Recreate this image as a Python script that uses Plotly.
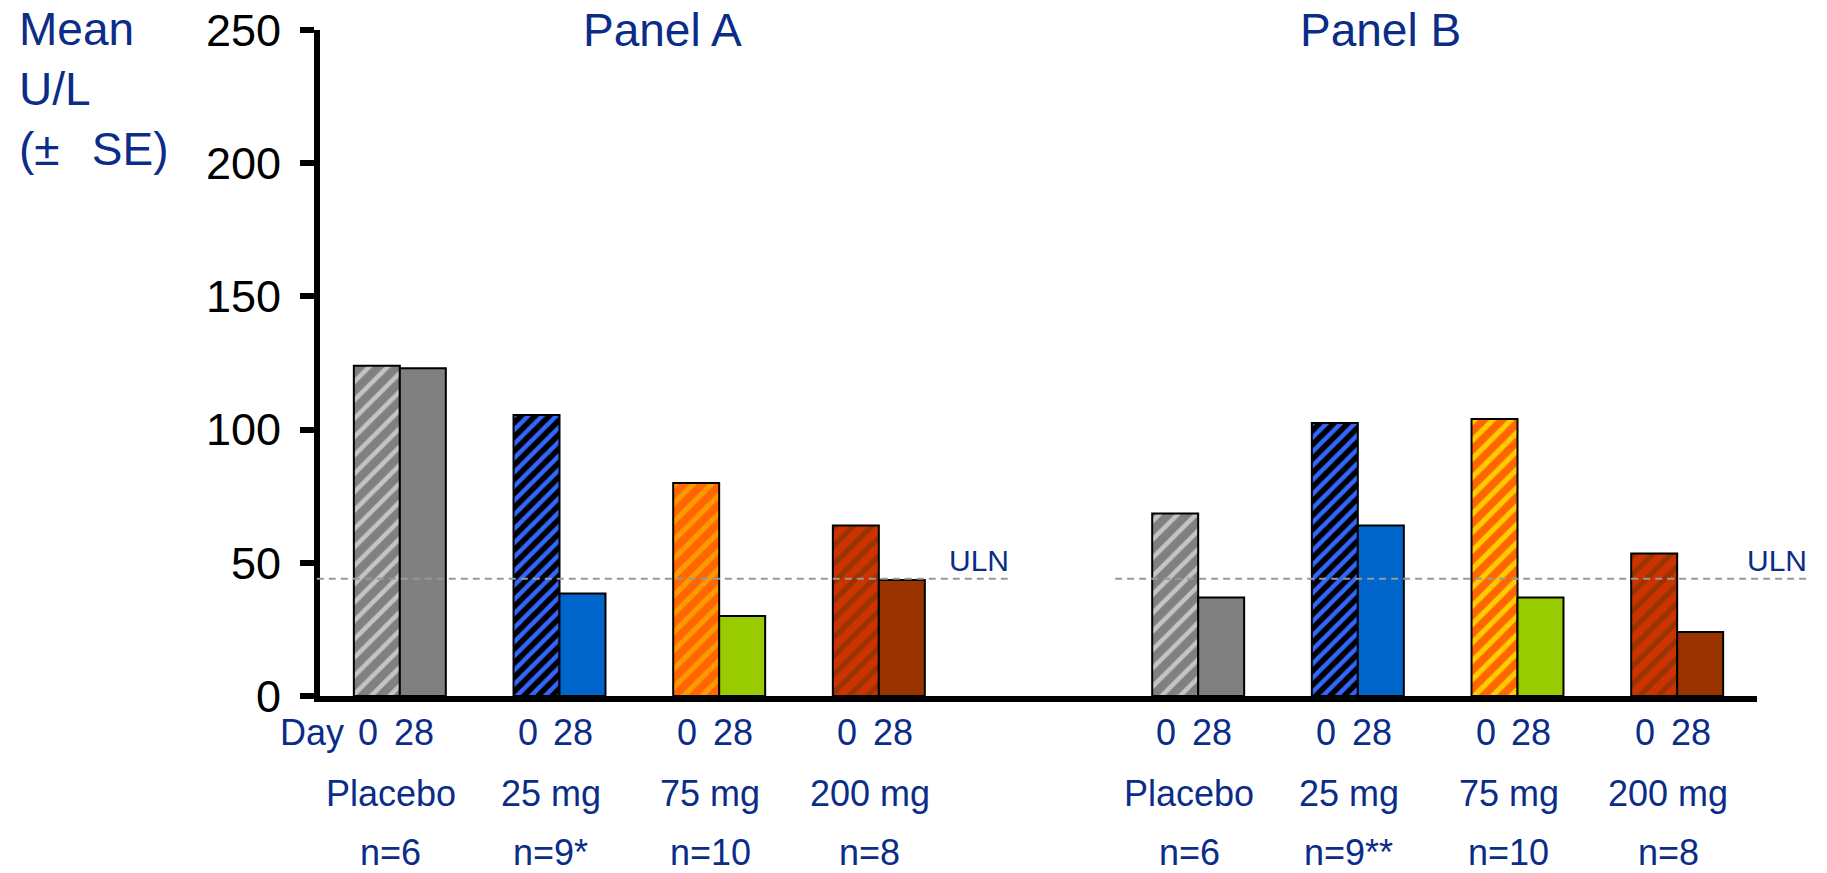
import plotly.graph_objects as go

# Group positions on the x axis (Panel A: 0-3, Panel B: 5-8; slot 4 left empty)
group_pos = [0, 1, 2, 3, 5, 6, 7, 8]
doses = ["Placebo", "25 mg", "75 mg", "200 mg"]
n_panel_a = ["n=6", "n=9*", "n=10", "n=8"]
n_panel_b = ["n=6", "n=9**", "n=10", "n=8"]

# Mean U/L at Day 0 and Day 28
day0_a = [124, 105.5, 80, 64]
day28_a = [123, 38.5, 30, 43.5]
day0_b = [68.5, 102.5, 104, 53.5]
day28_b = [37, 64, 37, 24]
uln = 44

day0 = day0_a + day0_b
day28 = day28_a + day28_b
group_labels = doses + doses
n_labels = n_panel_a + n_panel_b

# Styling
navy = "#0B2D87"
font_family = "Liberation Sans, Arial, sans-serif"
day0_bg = ["#808080", "#000000", "#FF6600", "#CC3300"] * 2
day0_fg = ["#C4C4C4", "#3366FF", "#FF9900", "#993300",
           "#C4C4C4", "#3366FF", "#FFCC00", "#993300"]
day0_size = [13, 10, 13, 13] * 2
day0_solid = [0.35, 0.45, 0.4, 0.4] * 2
day28_color = ["#808080", "#0066CC", "#99CC00", "#993300"] * 2

bar_w = 0.288
x_range = [-0.5, 8.5]

fig = go.Figure()
# Hatched Day 0 bars, one trace per bar so each gets its own stripe colours
for i, (xp, yv) in enumerate(zip(group_pos, day0)):
    fig.add_bar(
        x=[xp], y=[yv], name="Day 0", offsetgroup="day0",
        marker=dict(
            color=day0_bg[i],
            line=dict(color="black", width=2),
            pattern=dict(shape="/", fgcolor=day0_fg[i], bgcolor=day0_bg[i],
                         size=day0_size[i], solidity=day0_solid[i],
                         fillmode="replace"),
        ),
    )
# Solid Day 28 bars
fig.add_bar(
    x=group_pos, y=day28, name="Day 28", offsetgroup="day28",
    marker=dict(color=day28_color, line=dict(color="black", width=2)),
)

def to_paper(xd):
    return (xd - x_range[0]) / (x_range[1] - x_range[0])

# ULN reference lines for each panel
for x0, x1 in [(-0.52, 3.82), (4.48, 8.83)]:
    fig.add_shape(type="line", xref="paper", yref="y",
                  x0=to_paper(x0), x1=to_paper(x1), y0=uln, y1=uln,
                  line=dict(color="#999999", width=2, dash="7px,5px"))

annotations = []
for xd in [3.627, 8.623]:
    annotations.append(dict(text="ULN", xref="paper", yref="y", x=to_paper(xd), y=uln,
                            yshift=18, showarrow=False, xanchor="center", yanchor="middle",
                            font=dict(size=30, color=navy, family=font_family)))

# Panel titles
for txt, xd in [("Panel A", 1.648), ("Panel B", 6.14)]:
    annotations.append(dict(text=txt, xref="paper", yref="paper", x=to_paper(xd), y=1,
                            yshift=0, showarrow=False, xanchor="center", yanchor="middle",
                            font=dict(size=46, color=navy, family=font_family)))

# Y axis title
annotations.append(dict(
    text="Mean<br>U/L<br>(± <span style='font-size:70px'>\u00a0</span>SE)",
    xref="paper", yref="paper", x=to_paper(-2.397), y=1.045, yshift=-1,
    showarrow=False, xanchor="left", yanchor="top", align="left",
    font=dict(size=46, color=navy, family=font_family)))

label_font = dict(size=36, color=navy, family=font_family)
annotations.append(dict(text="Day", xref="paper", yref="paper", x=to_paper(-0.55), y=0,
                        yshift=-36, showarrow=False, xanchor="center", yanchor="middle",
                        font=label_font))
for g, grp, nl in zip(group_pos, group_labels, n_labels):
    for xd, txt in [(g - bar_w / 2, "0"), (g + bar_w / 2, "28")]:
        annotations.append(dict(text=txt, xref="x", yref="paper", x=xd, y=0, xshift=-9,
                                yshift=-36, showarrow=False, xanchor="center",
                                yanchor="middle", font=label_font))
    annotations.append(dict(text=grp, xref="x", yref="paper", x=g, y=0, xshift=-9,
                            yshift=-97, showarrow=False, xanchor="center",
                            yanchor="middle", font=label_font))
    annotations.append(dict(text=nl, xref="x", yref="paper", x=g, y=0, xshift=-9,
                            yshift=-156, showarrow=False, xanchor="center",
                            yanchor="middle", font=label_font, borderpad=0))

fig.update_layout(
    width=1827, height=873,
    margin=dict(l=320, r=70, t=30, b=177),
    paper_bgcolor="white", plot_bgcolor="white",
    showlegend=False,
    barmode="group", bargap=1 - 2 * bar_w, bargroupgap=0,
    annotations=annotations,
    font=dict(family=font_family),
)
fig.update_xaxes(range=x_range, showticklabels=False, ticks="", showgrid=False,
                 zeroline=False, showline=True, linewidth=6, linecolor="black",
                 automargin=False)
fig.update_yaxes(range=[0, 250], tickvals=[0, 50, 100, 150, 200, 250],
                 ticks="outside", ticklen=14, tickwidth=6, tickcolor="black",
                 showline=True, linewidth=6, linecolor="black", showgrid=False,
                 zeroline=False, ticklabelstandoff=10, automargin=False,
                 tickfont=dict(size=45, color="black", family=font_family))

fig.write_html("out.html")
